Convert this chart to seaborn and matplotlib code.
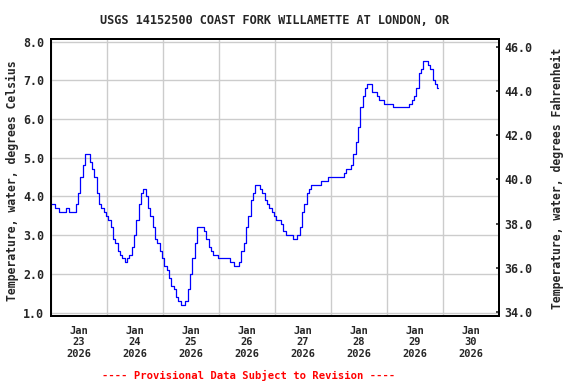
import pandas as pd
import matplotlib
matplotlib.use("Agg")
import matplotlib.pyplot as plt
import matplotlib.dates as mdates
import matplotlib.ticker as mticker
import seaborn as sns

# Hourly water temperature (deg C), starting Jan 23 2026 00:00
jan23 = [3.8, 3.8, 3.7, 3.7, 3.6, 3.6, 3.6, 3.7, 3.6, 3.6, 3.6, 3.8,
         4.1, 4.5, 4.8, 5.1, 5.1, 4.9, 4.7, 4.5, 4.1, 3.8, 3.7, 3.6]
jan24 = [3.5, 3.4, 3.2, 2.9, 2.8, 2.6, 2.5, 2.4, 2.3, 2.4, 2.5, 2.7,
         3.0, 3.4, 3.8, 4.1, 4.2, 4.0, 3.7, 3.5, 3.2, 2.9, 2.8, 2.6]
jan25 = [2.4, 2.2, 2.1, 1.9, 1.7, 1.6, 1.4, 1.3, 1.2, 1.2, 1.3, 1.6,
         2.0, 2.4, 2.8, 3.2, 3.2, 3.2, 3.1, 2.9, 2.7, 2.6, 2.5, 2.5]
jan26 = [2.4, 2.4, 2.4, 2.4, 2.4, 2.3, 2.3, 2.2, 2.2, 2.3, 2.6, 2.8,
         3.2, 3.5, 3.9, 4.1, 4.3, 4.3, 4.2, 4.1, 3.9, 3.8, 3.7, 3.6]
jan27 = [3.5, 3.4, 3.4, 3.3, 3.1, 3.0, 3.0, 3.0, 2.9, 2.9, 3.0, 3.2,
         3.6, 3.8, 4.1, 4.2, 4.3, 4.3, 4.3, 4.3, 4.4, 4.4, 4.4, 4.5]
jan28 = [4.5, 4.5, 4.5, 4.5, 4.5, 4.5, 4.6, 4.7, 4.7, 4.8, 5.1, 5.4,
         5.8, 6.3, 6.6, 6.8, 6.9, 6.9, 6.7, 6.7, 6.6, 6.5, 6.5, 6.4]
jan29 = [6.4, 6.4, 6.4, 6.3, 6.3, 6.3, 6.3, 6.3, 6.3, 6.3, 6.4, 6.5,
         6.6, 6.8, 7.2, 7.3, 7.5, 7.5, 7.4, 7.3, 7.0, 6.9, 6.8]

celsius_ticks = [1.0, 2.0, 3.0, 4.0, 5.0, 6.0, 7.0, 8.0]
fahrenheit_ticks = [34.0, 36.0, 38.0, 40.0, 42.0, 44.0, 46.0]

temps = jan23 + jan24 + jan25 + jan26 + jan27 + jan28 + jan29
df = pd.DataFrame({
    "time": pd.date_range("2026-01-23 00:00", periods=len(temps), freq="h"),
    "temp": temps,
})

sns.set_style("white")
plt.rcParams["font.family"] = ["DejaVu Sans Mono"]
plt.rcParams["font.weight"] = "bold"

fig = plt.figure(figsize=(5.76, 3.84), dpi=100)
ax = fig.add_axes([51 / 576, 1 - 316 / 384, 448 / 576, 277 / 384])

sns.lineplot(data=df, x="time", y="temp", ax=ax, color="#0000ff",
             linewidth=0.9, drawstyle="steps-mid", estimator=None)

ax.set_xlim(pd.Timestamp("2026-01-23"), pd.Timestamp("2026-01-31"))
ax.set_ylim(0.915, 8.065)

# gridlines at midnight, labels at noon
ax.xaxis.set_major_locator(mdates.DayLocator())
ax.xaxis.set_major_formatter(mticker.NullFormatter())
ax.xaxis.set_minor_locator(mdates.HourLocator(byhour=12))
ax.xaxis.set_minor_formatter(mdates.DateFormatter("%b\n%d\n%Y"))
ax.tick_params(axis="x", which="both", length=0, pad=7, labelsize=7.5)
ax.set_yticks(celsius_ticks)
ax.yaxis.set_major_formatter(mticker.FormatStrFormatter("%.1f"))
ax.tick_params(axis="y", length=0, pad=5, labelsize=8.4)
for lab in ax.get_xticklabels(which="minor"):
    lab.set_linespacing(1.2)

ax.grid(True, which="major", color="#cccccc", linewidth=1)
ax.set_xlabel("")
ax.set_ylabel("")
for sp in ax.spines.values():
    sp.set_color("black")
    sp.set_linewidth(1.4)

ax2 = ax.twinx()
ax2.set_ylim(33.82, 46.36)
ax2.set_yticks(fahrenheit_ticks)
ax2.yaxis.set_major_formatter(mticker.FormatStrFormatter("%.1f"))
ax2.tick_params(axis="y", direction="in", length=2.5, width=1.2, pad=4, labelsize=8.4)
ax2.grid(False)
for sp in ax2.spines.values():
    sp.set_color("black")
    sp.set_linewidth(1.4)

fig.text(275 / 576, 1 - 20 / 384, "USGS 14152500 COAST FORK WILLAMETTE AT LONDON, OR",
         ha="center", va="center", fontsize=8.6, fontweight="bold")
fig.text(12 / 576, 1 - 181 / 384, "Temperature, water, degrees Celsius",
         rotation=90, ha="center", va="center", fontsize=8.3, fontweight="bold")
fig.text(557 / 576, 1 - 178 / 384, "Temperature, water, degrees Fahrenheit",
         rotation=90, ha="center", va="center", fontsize=8.3, fontweight="bold")
fig.text(249 / 576, 1 - 375 / 384, "---- Provisional Data Subject to Revision ----",
         ha="center", va="center", fontsize=7.6, fontweight="bold", color="red")

fig.savefig("out.png", dpi=100)
